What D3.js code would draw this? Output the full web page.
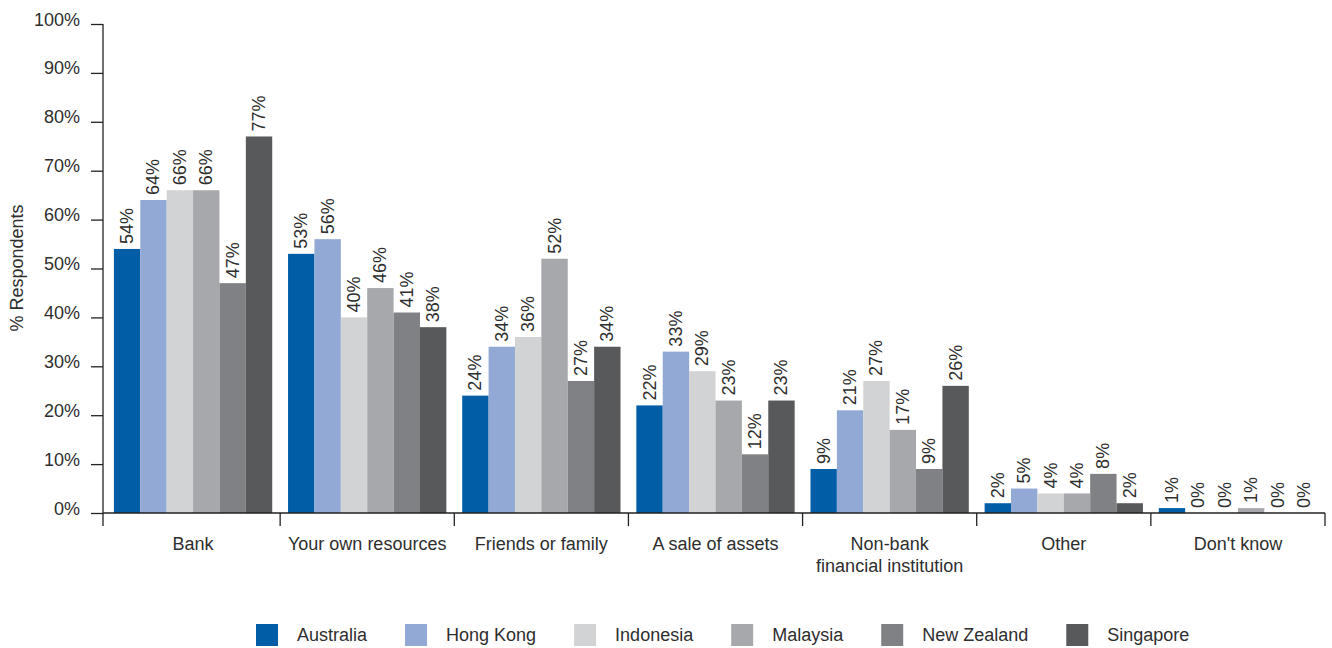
<!DOCTYPE html>
<html>
<head>
<meta charset="utf-8">
<script src="https://cdn.jsdelivr.net/npm/d3@7"></script>
<style>
  html, body { margin: 0; padding: 0; background: #fff; }
  svg { display: block; font-family: "Liberation Sans", Arial, sans-serif; }
</style>
</head>
<body>
<svg id="chart" width="1332" height="648"></svg>
<script>
const categories = ["Bank", "Your own resources", "Friends or family", "A sale of assets", "Non-bank\nfinancial institution", "Other", "Don't know"];
const seriesNames = ["Australia", "Hong Kong", "Indonesia", "Malaysia", "New Zealand", "Singapore"];
const australia  = [54, 53, 24, 22, 9, 2, 1];
const hongKong   = [64, 56, 34, 33, 21, 5, 0];
const indonesia  = [66, 40, 36, 29, 27, 4, 0];
const malaysia   = [66, 46, 52, 23, 17, 4, 1];
const newZealand = [47, 41, 27, 12, 9, 8, 0];
const singapore  = [77, 38, 34, 23, 26, 2, 0];
const seriesColors = ["#005DA6", "#91A9D4", "#D2D3D5", "#A7A8AB", "#808184", "#58595B"];
const yTicks = [0, 10, 20, 30, 40, 50, 60, 70, 80, 90, 100];
const yTitle = "% Respondents";

const seriesValues = [australia, hongKong, indonesia, malaysia, newZealand, singapore];
const data = categories.map((c, i) => ({
  cat: c,
  values: seriesNames.map((s, j) => ({ series: s, value: seriesValues[j][i], color: seriesColors[j] }))
}));

const svg = d3.select("#chart");
const textColor = "#2e2e2e";
const fontSize = 18;
const axisColor = "#222";

const x0 = d3.scaleBand().domain(categories).range([106, 1325]).paddingInner(0).paddingOuter(0);
const x1 = d3.scaleBand().domain(seriesNames).range([0, x0.bandwidth()]).paddingInner(0).paddingOuter(0.3);
const y = d3.scaleLinear().domain([0, 100]).range([513, 24]);

// Bars
const groups = svg.append("g").selectAll("g").data(data).join("g")
  .attr("transform", d => `translate(${x0(d.cat)},0)`);

groups.selectAll("rect").data(d => d.values).join("rect")
  .attr("x", d => x1(d.series))
  .attr("y", d => y(d.value))
  .attr("width", x1.bandwidth())
  .attr("height", d => y(0) - y(d.value))
  .attr("fill", d => d.color);

groups.selectAll("text.val").data(d => d.values).join("text")
  .attr("class", "val")
  .attr("transform", d => `translate(${x1(d.series) + x1.bandwidth() / 2},${y(d.value) - 5}) rotate(-90)`)
  .attr("text-anchor", "start")
  .attr("dominant-baseline", "central")
  .attr("fill", textColor)
  .attr("font-size", fontSize)
  .text(d => d.value + "%");

// Y axis
const yAxis = d3.axisLeft(y).tickValues(yTicks).tickSize(12).tickPadding(11).tickFormat(d => d + "%");
const yg = svg.append("g").attr("transform", "translate(103,0)").call(yAxis);
yg.select(".domain").remove();
yg.selectAll(".tick line").attr("stroke", axisColor).attr("stroke-width", 1.3);
yg.selectAll(".tick text").attr("fill", textColor).attr("font-size", fontSize)
  .attr("font-family", "Liberation Sans, Arial, sans-serif").attr("dy", "0").attr("y", -5)
  .attr("dominant-baseline", "central");
svg.append("line").attr("x1", 103).attr("x2", 103).attr("y1", y(100)).attr("y2", 526)
  .attr("stroke", axisColor).attr("stroke-width", 1.3);

// X axis
svg.append("line").attr("x1", 103).attr("x2", 1325).attr("y1", y(0)).attr("y2", y(0))
  .attr("stroke", axisColor).attr("stroke-width", 1.3);
const boundaries = categories.map(c => x0(c) + x0.bandwidth());
svg.append("g").selectAll("line").data(boundaries).join("line")
  .attr("x1", d => d).attr("x2", d => d).attr("y1", y(0)).attr("y2", 526)
  .attr("stroke", axisColor).attr("stroke-width", 1.3);

const catLabels = svg.append("g").selectAll("text").data(categories).join("text")
  .attr("x", d => x0(d) + x0.bandwidth() / 2)
  .attr("y", 550)
  .attr("text-anchor", "middle")
  .attr("fill", textColor)
  .attr("font-size", fontSize);
catLabels.each(function(d) {
  const lines = d.split("\n");
  const t = d3.select(this);
  lines.forEach((ln, i) => {
    t.append("tspan").attr("x", x0(d) + x0.bandwidth() / 2).attr("dy", i === 0 ? 0 : 22).text(ln);
  });
});

// Y title
svg.append("text")
  .attr("transform", "translate(17,268) rotate(-90)")
  .attr("text-anchor", "middle")
  .attr("dominant-baseline", "central")
  .attr("fill", textColor)
  .attr("font-size", fontSize)
  .text(yTitle);

// Legend
const legend = svg.append("g");
let lx = 256;
seriesNames.forEach((s, i) => {
  legend.append("rect").attr("x", lx).attr("y", 624).attr("width", 22).attr("height", 22).attr("fill", seriesColors[i]);
  const t = legend.append("text").attr("x", lx + 41).attr("y", 635)
    .attr("dominant-baseline", "central").attr("fill", textColor).attr("font-size", fontSize).text(s);
  lx += 41 + t.node().getComputedTextLength() + 38;
});
</script>
</body>
</html>
